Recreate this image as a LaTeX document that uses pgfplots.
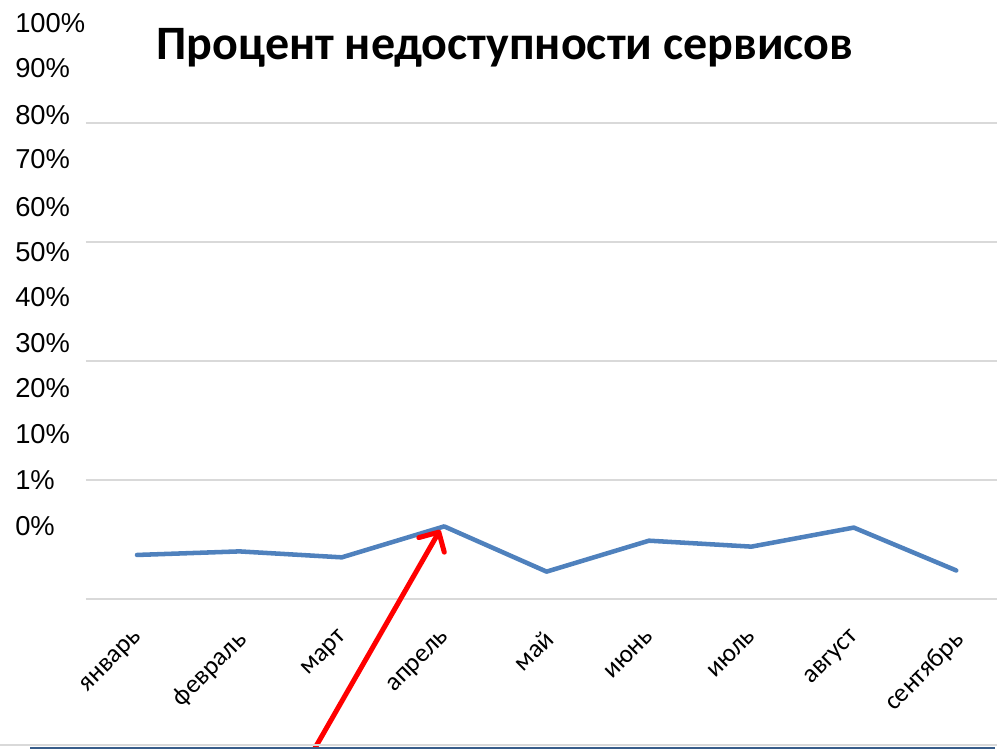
\documentclass[border=0pt]{standalone}
\usepackage{fontspec}
\setmainfont{Carlito}
\newfontfamily\arialfont{Liberation Sans}
\usepackage{pgfplots}
\pgfplotsset{compat=1.18}
\usetikzlibrary{arrows.meta}
\definecolor{lineblue}{RGB}{79,129,189}
\definecolor{gridgray}{RGB}{217,217,217}
\definecolor{boxblue}{RGB}{56,93,138}
\begin{document}
\begin{tikzpicture}
\path[use as bounding box] (0,0) rectangle (747.75pt,561.75pt);
\clip (0,0) rectangle (747.75pt,561.75pt);
% percentage labels on the left
\begin{axis}[at={(0pt,0pt)}, anchor=south west, scale only axis,
  width=747.75pt, height=561.75pt,
  xmin=0, xmax=997, ymin=0, ymax=749,
  axis line style={draw=none}, xtick=\empty,
  ytick={223,269,315,361,406,452,497,542,590,634,681,726},
  yticklabels={0\%,1\%,10\%,20\%,30\%,40\%,50\%,60\%,70\%,80\%,90\%,100\%},
  major tick length=0pt,
  yticklabel style={font=\arialfont\fontsize{20.5}{24}\selectfont, anchor=west, inner sep=0pt, xshift=11.25pt}]
\end{axis}
% main chart
\begin{axis}[at={(64.35pt,112.5pt)}, anchor=south west, scale only axis,
  width=691.2pt, height=357pt,
  xmin=-0.5, xmax=8.5, ymin=0, ymax=4,
  ytick={0,1,2,3,4}, yticklabels={},
  ymajorgrids, grid style={gridgray, line width=1pt},
  axis line style={draw=none}, major tick length=0pt,
  xtick={0,1,2,3,4,5,6,7,8},
  xticklabels={январь,февраль,март,апрель,май,июнь,июль,август,сентябрь},
  xticklabel style={yshift=-22pt, xshift=-3pt, rotate=45, anchor=north east, inner sep=0pt, font=\fontsize{19.5}{22}\selectfont},
  clip=false]
\addplot[lineblue, line width=3.4pt, line cap=round, line join=round] coordinates {
 (0,0.37) (1,0.40) (2,0.35) (3,0.61) (4,0.23) (5,0.49) (6,0.44) (7,0.60) (8,0.24)};
\draw[red, line width=3.75pt, -{Straight Barb[length=11pt,width=22pt,round]}] (axis cs:1.64,-1.40) -- (axis cs:2.96,0.58);
\end{axis}
\node[anchor=base, font=\bfseries\fontsize{36}{42}\selectfont] at (378.75pt,516.75pt) {Процент недоступности сервисов};
\draw[gridgray, line width=1.5pt] (0,3pt) -- (747.75pt,3pt);
\draw[boxblue, line width=2pt] (22.5pt,0.75pt) -- (746pt,0.75pt);
\end{tikzpicture}
\end{document}
